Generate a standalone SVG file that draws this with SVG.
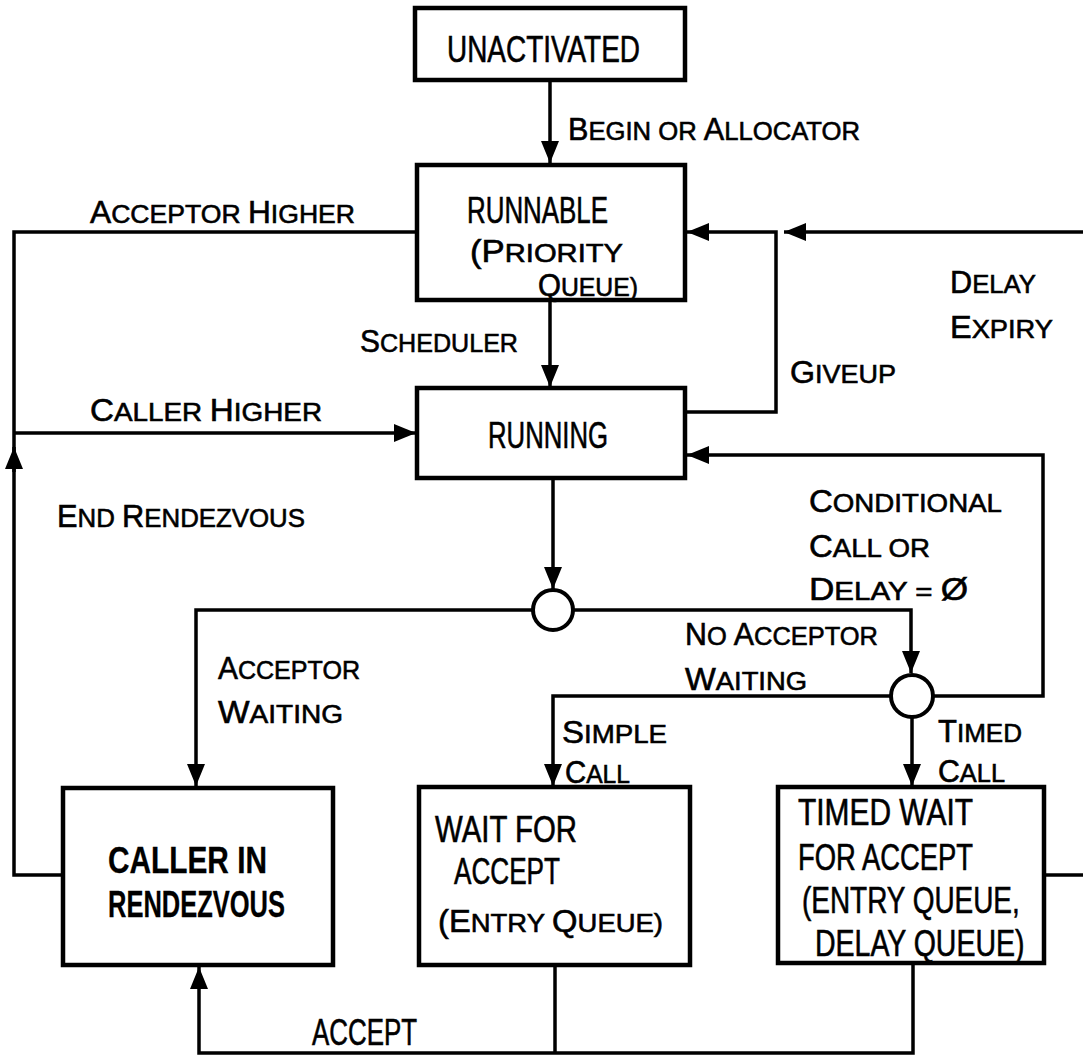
<svg xmlns="http://www.w3.org/2000/svg" width="1083" height="1057" viewBox="0 0 1083 1057">
<style>
.box{fill:#fff;stroke:#000;stroke-width:4.5}
.dec{fill:#fff;stroke:#000;stroke-width:4}
.ln{fill:none;stroke:#000;stroke-width:3.5;stroke-linejoin:miter}
.arr{marker-end:url(#ah)}
text{font-family:"Liberation Sans",Arial,sans-serif;fill:#000;stroke:#000;stroke-width:0.6}
.lb{font-size:26px}
.B{font-size:31px}
.bx{font-size:37px}
.bd{font-weight:bold;stroke-width:0.3}
</style>
<defs>
<marker id="ah" markerUnits="userSpaceOnUse" markerWidth="24" markerHeight="20" refX="22" refY="9" orient="auto">
<path d="M0,0 L22,9 L0,18 z" fill="#000"/>
</marker>
</defs>
<rect width="1083" height="1057" fill="#fff"/>

<g id="connectors">
<path class="ln arr" d="M550,80 L550,163"/>
<path class="ln arr" d="M550,300 L550,387"/>
<path class="ln arr" d="M685,412 L776,412 L776,232 L687,232"/>
<path class="ln arr" d="M1083,232 L784,232"/>
<path class="ln arr" d="M553,478 L553,589"/>
<path class="ln arr" d="M573,610 L911,610 L911,673"/>
<path class="ln arr" d="M533,610 L196,610 L196,786"/>
<path class="ln arr" d="M932,696 L1043,696 L1043,455 L687,455"/>
<path class="ln arr" d="M891,696 L553,696 L553,786"/>
<path class="ln arr" d="M912,716 L912,786"/>
<path class="ln" d="M63,875 L14,875 L14,232 L417,232"/>
<path class="ln arr" d="M14,472 L14,447"/>
<path class="ln arr" d="M14,433 L416,433"/>
<path class="ln" d="M555,965 L555,1053"/>
<path class="ln arr" d="M913,963 L913,1053 L199,1053 L199,967"/>
<path class="ln" d="M1044,875 L1083,875"/>
</g>

<g id="labels">
<text class="lb" x="568" y="140" textLength="292" lengthAdjust="spacingAndGlyphs"><tspan class="B">B</tspan>EGIN OR <tspan class="B">A</tspan>LLOCATOR</text>
<text class="lb" x="90" y="223" textLength="265" lengthAdjust="spacingAndGlyphs"><tspan class="B">A</tspan>CCEPTOR <tspan class="B">H</tspan>IGHER</text>
<text class="lb" x="360" y="352" textLength="158" lengthAdjust="spacingAndGlyphs"><tspan class="B">S</tspan>CHEDULER</text>
<text class="lb" x="790" y="383" textLength="106" lengthAdjust="spacingAndGlyphs"><tspan class="B">G</tspan>IVEUP</text>
<text class="lb" x="950" y="293" textLength="86" lengthAdjust="spacingAndGlyphs"><tspan class="B">D</tspan>ELAY</text>
<text class="lb" x="950" y="338" textLength="103" lengthAdjust="spacingAndGlyphs"><tspan class="B">E</tspan>XPIRY</text>
<text class="lb" x="90" y="421" textLength="232" lengthAdjust="spacingAndGlyphs"><tspan class="B">C</tspan>ALLER <tspan class="B">H</tspan>IGHER</text>
<text class="lb" x="57" y="527" textLength="248" lengthAdjust="spacingAndGlyphs"><tspan class="B">E</tspan>ND <tspan class="B">R</tspan>ENDEZVOUS</text>
<text class="lb" x="809" y="512" textLength="193" lengthAdjust="spacingAndGlyphs"><tspan class="B">C</tspan>ONDITIONAL</text>
<text class="lb" x="809" y="557" textLength="121" lengthAdjust="spacingAndGlyphs"><tspan class="B">C</tspan>ALL OR</text>
<text class="lb" x="809" y="600" textLength="159" lengthAdjust="spacingAndGlyphs"><tspan class="B">D</tspan>ELAY = <tspan class="B">Ø</tspan></text>
<text class="lb" x="685" y="645" textLength="193" lengthAdjust="spacingAndGlyphs"><tspan class="B">N</tspan>O <tspan class="B">A</tspan>CCEPTOR</text>
<text class="lb" x="685" y="690" textLength="122" lengthAdjust="spacingAndGlyphs"><tspan class="B">W</tspan>AITING</text>
<text class="lb" x="218" y="679" textLength="142" lengthAdjust="spacingAndGlyphs"><tspan class="B">A</tspan>CCEPTOR</text>
<text class="lb" x="218" y="723" textLength="125" lengthAdjust="spacingAndGlyphs"><tspan class="B">W</tspan>AITING</text>
<text class="lb" x="562" y="743" textLength="105" lengthAdjust="spacingAndGlyphs"><tspan class="B">S</tspan>IMPLE</text>
<text class="lb" x="565" y="783" textLength="65" lengthAdjust="spacingAndGlyphs"><tspan class="B">C</tspan>ALL</text>
<text class="lb" x="938" y="742" textLength="84" lengthAdjust="spacingAndGlyphs"><tspan class="B">T</tspan>IMED</text>
<text class="lb" x="938" y="782" textLength="67" lengthAdjust="spacingAndGlyphs"><tspan class="B">C</tspan>ALL</text>
<text class="bx" x="312" y="1045" textLength="105" lengthAdjust="spacingAndGlyphs">ACCEPT</text>
</g>

<g id="unactivated">
<rect class="box" x="415" y="8" width="270" height="72"/>
<text class="bx" x="447" y="62" textLength="193" lengthAdjust="spacingAndGlyphs">UNACTIVATED</text>
</g>

<g id="runnable">
<rect class="box" x="417" y="165" width="268" height="135"/>
<text class="bx" x="467" y="223" textLength="141" lengthAdjust="spacingAndGlyphs">RUNNABLE</text>
<text class="lb" x="470" y="262" textLength="153" lengthAdjust="spacingAndGlyphs"><tspan class="B">(P</tspan>RIORITY</text>
<text class="lb" x="538" y="296" textLength="100" lengthAdjust="spacingAndGlyphs"><tspan class="B">Q</tspan>UEUE)</text>
</g>

<g id="running">
<rect class="box" x="417" y="388" width="268" height="90"/>
<text class="bx" x="488" y="448" textLength="120" lengthAdjust="spacingAndGlyphs">RUNNING</text>
</g>

<g id="decision1">
<circle class="dec" cx="553" cy="610" r="20"/>
</g>

<g id="decision2">
<circle class="dec" cx="912" cy="696" r="21"/>
</g>

<g id="caller-in-rendezvous">
<rect class="box" x="63" y="788" width="270" height="177"/>
<text class="bx bd" x="108" y="873" textLength="159" lengthAdjust="spacingAndGlyphs">CALLER IN</text>
<text class="bx bd" x="108" y="917" textLength="177" lengthAdjust="spacingAndGlyphs">RENDEZVOUS</text>
</g>

<g id="wait-for-accept">
<rect class="box" x="419" y="787" width="271" height="178"/>
<text class="bx" x="435" y="842" textLength="142" lengthAdjust="spacingAndGlyphs">WAIT FOR</text>
<text class="bx" x="454" y="884" textLength="106" lengthAdjust="spacingAndGlyphs">ACCEPT</text>
<text class="lb" x="438" y="932" textLength="225" lengthAdjust="spacingAndGlyphs"><tspan class="B">(E</tspan>NTRY <tspan class="B">Q</tspan>UEUE)</text>
</g>

<g id="timed-wait-for-accept">
<rect class="box" x="778" y="787" width="266" height="176"/>
<text class="bx" x="798" y="825" textLength="175" lengthAdjust="spacingAndGlyphs">TIMED WAIT</text>
<text class="bx" x="798" y="870" textLength="175" lengthAdjust="spacingAndGlyphs">FOR ACCEPT</text>
<text class="bx" transform="translate(802,913) scale(0.755,1)" x="0" y="0">(ENTRY QUEUE,</text>
<text class="bx" transform="translate(815,956) scale(0.77,1)" x="0" y="0">DELAY QUEUE)</text>
</g>
</svg>
